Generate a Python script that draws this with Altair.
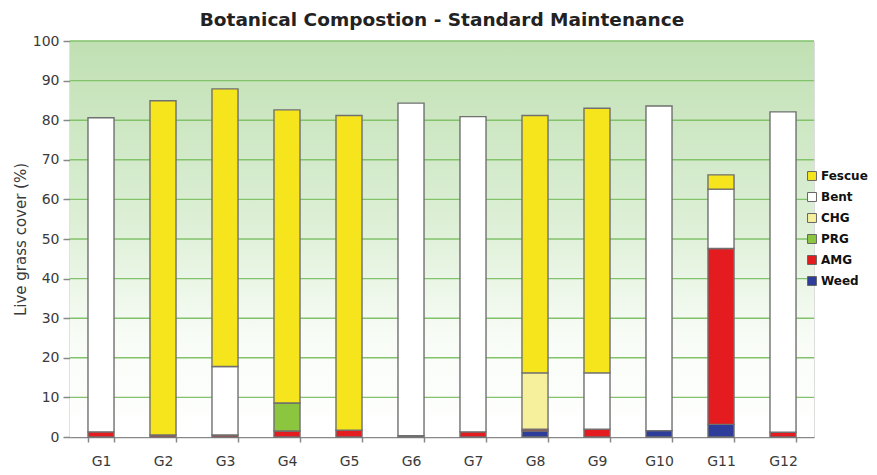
import altair as alt
import pandas as pd

groups = ["G1", "G2", "G3", "G4", "G5", "G6", "G7", "G8", "G9", "G10", "G11", "G12"]
# stacking order, bottom to top
species = ["Weed", "AMG", "PRG", "CHG", "Bent", "Fescue"]
legend_order = ["Fescue", "Bent", "CHG", "PRG", "AMG", "Weed"]
colors = {"Fescue": "#f6e41c", "Bent": "#ffffff", "CHG": "#f6ef9c",
          "PRG": "#8cc63f", "AMG": "#e41b1f", "Weed": "#2e3c9a"}

weed = [0, 0, 0, 0, 0, 0.3, 0, 1.5, 0, 1.6, 3.2, 0]
amg = [1.3, 0.5, 0.5, 1.5, 1.7, 0, 1.3, 0.5, 2.0, 0, 44.4, 1.2]
prg = [0, 0, 0, 7.1, 0, 0, 0, 0, 0, 0, 0, 0]
chg = [0, 0, 0, 0, 0, 0, 0, 14.2, 0, 0, 0, 0]
bent = [79.3, 0, 17.3, 0, 0, 84.0, 79.6, 0, 14.2, 82.0, 15.0, 80.9]
fescue = [0, 84.4, 70.1, 74.0, 79.5, 0, 0, 65.0, 66.8, 0, 3.6, 0]

y_ticks = [0, 10, 20, 30, 40, 50, 60, 70, 80, 90, 100]
grid_values = [10, 20, 30, 40, 50, 60, 70, 80, 90, 100]

series = {"Weed": weed, "AMG": amg, "PRG": prg, "CHG": chg, "Bent": bent, "Fescue": fescue}
rows = []
for s_i, s in enumerate(species):
    for g, v in zip(groups, series[s]):
        if v > 0:
            rows.append({"group": g, "species": s, "value": v, "order": s_i})
df = pd.DataFrame(rows)

W, H = 744, 396
FONT = "DejaVu Sans"

y_scale = alt.Scale(domain=[0, 100])
y_axis = alt.Axis(title="Live grass cover (%)", values=y_ticks,
                  labelOverlap=False,
                  grid=False, titleFont=FONT, titleFontSize=15,
                  titleFontWeight="normal", titleColor="#3a3a3a",
                  titlePadding=4,
                  labelFont=FONT, labelFontSize=14, labelColor="#3a3a3a",
                  tickSize=7, tickColor="#888888", domainColor="#888888",
                  tickWidth=1.5, domainWidth=1.5, labelPadding=4)

bg = alt.Chart(alt.Data(values=[{}])).mark_rect(
    fill=alt.LinearGradient(
        gradient="linear",
        stops=[
            alt.GradientStop(offset=0, color="#c0e0b3"),
            alt.GradientStop(offset=0.45, color="#dcefd5"),
            alt.GradientStop(offset=0.75, color="#f8fcf6"),
            alt.GradientStop(offset=1, color="#ffffff"),
        ],
        x1=0, x2=0, y1=0, y2=1,
    )
).encode(x=alt.value(0), x2=alt.value(W), y=alt.value(0), y2=alt.value(H))

grid = alt.Chart(pd.DataFrame({"v": grid_values})).mark_rule(
    color="#82c26a", strokeWidth=1.4
).encode(y=alt.Y("v:Q", scale=y_scale, axis=y_axis))

bars = alt.Chart(df).mark_bar(stroke="#707070", strokeWidth=1.4).encode(
    x=alt.X("group:N", sort=groups,
            scale=alt.Scale(paddingInner=0.58, paddingOuter=0.29),
            axis=alt.Axis(title=None, labelAngle=0, tickBand="extent",
                          labelFont=FONT, labelFontSize=14, labelColor="#3a3a3a",
                          labelPadding=12, tickSize=5, tickColor="#888888",
                          domainColor="#888888", tickWidth=1.5, domainWidth=1.5)),
    y=alt.Y("value:Q", stack="zero", scale=y_scale, axis=y_axis),
    color=alt.Color("species:N",
                    scale=alt.Scale(domain=legend_order,
                                    range=[colors[s] for s in legend_order]),
                    legend=alt.Legend(title=None, orient="none", legendX=736, legendY=129,
                                      symbolType="square", symbolSize=80,
                                      symbolStrokeColor="#666666", symbolStrokeWidth=1,
                                      labelFont=FONT, labelFontSize=12,
                                      labelFontWeight="bold", labelColor="#111111",
                                      rowPadding=7, labelOffset=3)),
    order=alt.Order("order:Q", sort="ascending"),
)

chart = alt.layer(bg, grid, bars).properties(
    width=W, height=H,
    title=alt.TitleParams("Botanical Compostion - Standard Maintenance",
                          font=FONT, fontSize=18.5, fontWeight="bold",
                          color="#222222", anchor="middle", offset=5),
    autosize=alt.AutoSizeParams(type="none"),
    padding={"left": 62, "top": 33, "right": 55, "bottom": 30},
).configure_view(stroke=None).configure(background="#ffffff")

chart.save("out.html", embed_options={"renderer": "svg", "actions": False})
